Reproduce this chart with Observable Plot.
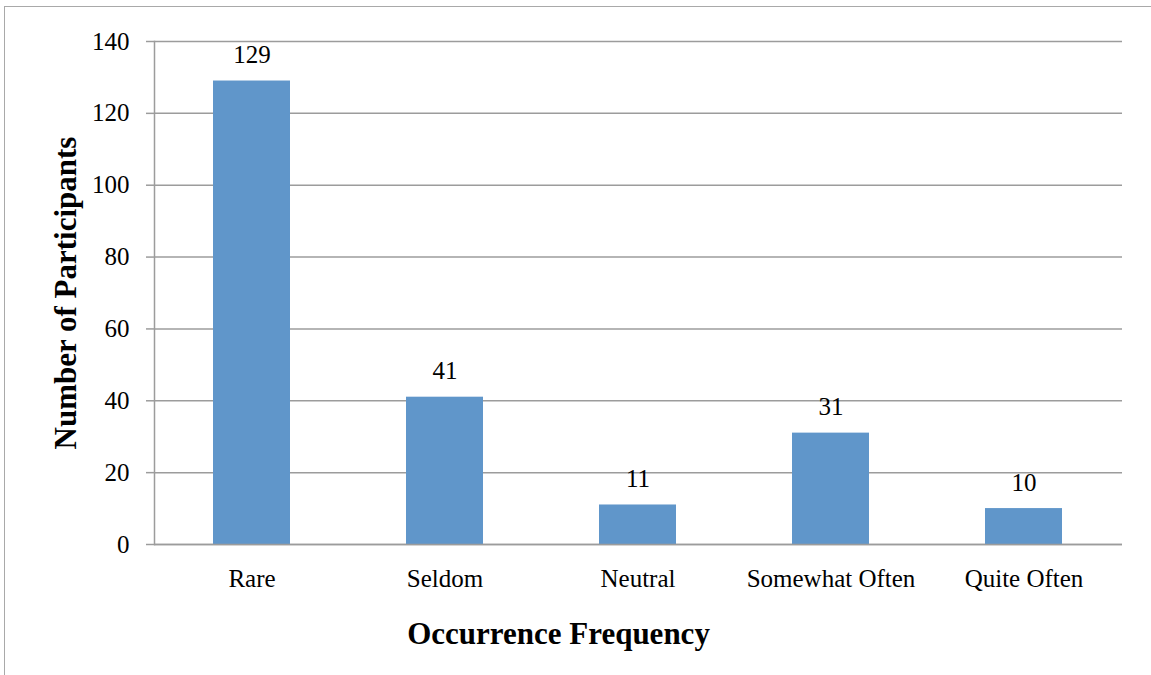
<!DOCTYPE html>
<html><head><meta charset="utf-8">
<script src="https://cdn.jsdelivr.net/npm/d3@7"></script>
<script src="https://cdn.jsdelivr.net/npm/@observablehq/plot@0.6"></script>
<style>
body{margin:0;background:#fff;}
#wrap{position:relative;width:1151px;height:675px;overflow:hidden;background:#fff;}
#border{position:absolute;left:4px;top:6px;width:1200px;height:700px;border-top:1.5px solid #a9a9a9;border-left:1.5px solid #a9a9a9;}
#chart{position:absolute;left:0;top:0;}
#chart text{font-family:'Liberation Serif','Times New Roman',Times,serif;}
</style></head><body>
<div id="wrap"><div id="border"></div><div id="chart"></div></div>
<script>
const categories = ["Rare", "Seldom", "Neutral", "Somewhat Often", "Quite Often"];
const counts = [129, 41, 11, 31, 10];
const yTicks = [0, 20, 40, 60, 80, 100, 120, 140];
const xTitle = "Occurrence Frequency";
const yTitle = "Number of Participants";

const data = categories.map((c, i) => ({category: c, count: counts[i]}));
const font = "'Liberation Serif','Times New Roman',Times,serif";
const gridColor = "#9c9c9c";

const chart = Plot.plot({
  width: 1151,
  height: 675,
  marginLeft: 154,
  marginRight: 29,
  marginTop: 41,
  marginBottom: 131,
  style: {fontFamily: font, fontSize: "25px", color: "#000", background: "transparent", overflow: "visible"},
  x: {domain: categories, paddingInner: 0.6, paddingOuter: 0.3, label: null},
  y: {domain: [0, 140], label: null},
  marks: [
    Plot.gridY(yTicks, {stroke: gridColor, strokeOpacity: 1, strokeWidth: 1.5}),
    Plot.barY(data, {x: "category", y: "count", fill: "#6096ca"}),
    Plot.ruleY([0], {stroke: gridColor, strokeWidth: 1.5}),
    Plot.frame({anchor: "left", stroke: gridColor, strokeWidth: 1.5}),
    Plot.axisY(yTicks, {tickSize: 8, tickPadding: 17, stroke: gridColor, strokeWidth: 1.5, fontSize: 25, label: null}),
    Plot.axisX({tickSize: 0, tickPadding: 25, fontSize: 25, label: null}),
    Plot.text(data, {x: "category", y: "count", text: d => String(d.count), dy: -18, lineAnchor: "bottom", fontSize: 25}),
    Plot.text([xTitle], {frameAnchor: "bottom", text: d => d, textAnchor: "middle", dx: -80, dy: 99, lineAnchor: "bottom", fontWeight: "bold", fontSize: 31}),
    Plot.text([yTitle], {frameAnchor: "left", text: d => d, textAnchor: "middle", rotate: -90, dx: -79, lineAnchor: "bottom", fontWeight: "bold", fontSize: 31})
  ]
});
document.getElementById("chart").appendChild(chart);
</script>
</body></html>
